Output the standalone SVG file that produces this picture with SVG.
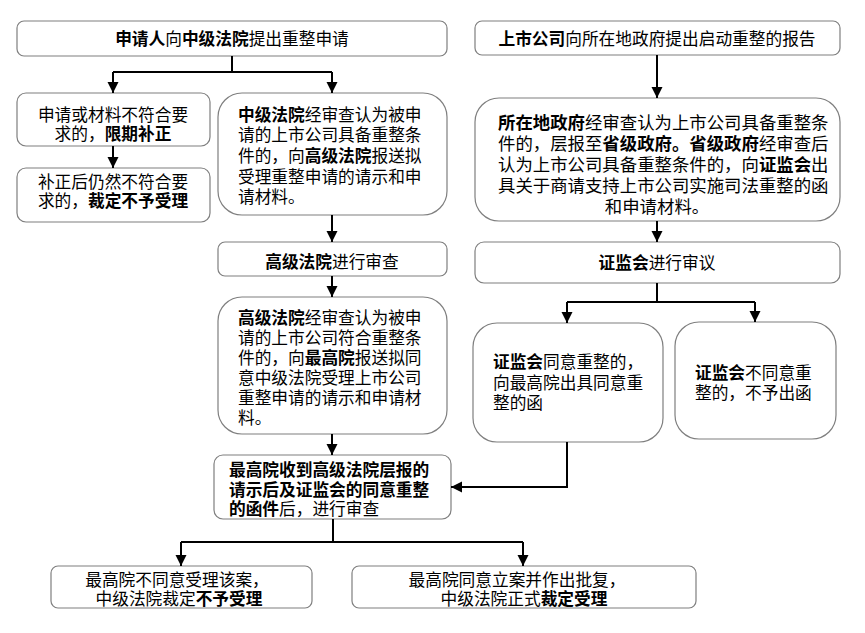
<svg xmlns="http://www.w3.org/2000/svg" width="865" height="633" viewBox="0 0 865 633">
<defs>
<marker id="arr" viewBox="0 0 10 10" refX="10" refY="5" markerUnits="userSpaceOnUse" markerWidth="11" markerHeight="12" orient="auto">
<path d="M0,0 L10,5 L0,10 z" fill="#000"/>
</marker>
<style>
.box{fill:#fff;stroke:#7f7f7f;stroke-width:1.2}
.t{font-family:"Noto Sans CJK SC","Noto Sans",sans-serif;font-size:16.7px;fill:#000}
.w{font-size:17.4px}
.c{text-anchor:middle}
.b{font-weight:bold}
.ln{stroke:#000;stroke-width:2;fill:none}
.ar{stroke:#000;stroke-width:2;fill:none;marker-end:url(#arr)}
</style>
</defs>
<rect width="865" height="633" fill="#fff"/>

<g id="n1">
<rect class="box" x="17" y="21" width="430" height="35" rx="7"/>
<text class="t c" x="232" y="45"><tspan class="b">申请人</tspan>向<tspan class="b">中级法院</tspan>提出重整申请</text>
</g>
<g id="n2">
<rect class="box" x="17" y="93" width="193" height="53" rx="9"/>
<text class="t c"><tspan x="113" y="121">申请或材料不符合要</tspan><tspan x="113" y="140">求的，<tspan class="b">限期补正</tspan></tspan></text>
</g>
<g id="n3">
<rect class="box" x="17" y="168" width="193" height="54" rx="9"/>
<text class="t c"><tspan x="113" y="188">补正后仍然不符合要</tspan><tspan x="113" y="207">求的，<tspan class="b">裁定不予受理</tspan></tspan></text>
</g>
<g id="n4">
<rect class="box" x="218" y="93" width="229" height="122" rx="24"/>
<text class="t"><tspan x="238" y="121"><tspan class="b">中级法院</tspan>经审查认为被申</tspan><tspan x="238" y="141">请的上市公司具备重整条</tspan><tspan x="238" y="162">件的，向<tspan class="b">高级法院</tspan>报送拟</tspan><tspan x="238" y="183">受理重整申请的请示和申</tspan><tspan x="238" y="203">请材料。</tspan></text>
</g>
<g id="n5">
<rect class="box" x="218" y="242" width="229" height="34" rx="7"/>
<text class="t c" x="332" y="268"><tspan class="b">高级法院</tspan>进行审查</text>
</g>
<g id="n6">
<rect class="box" x="218" y="297" width="229" height="137" rx="24"/>
<text class="t"><tspan x="238" y="324"><tspan class="b">高级法院</tspan>经审查认为被申</tspan><tspan x="238" y="344">请的上市公司符合重整条</tspan><tspan x="238" y="364">件的，向<tspan class="b">最高院</tspan>报送拟同</tspan><tspan x="238" y="384">意中级法院受理上市公司</tspan><tspan x="238" y="404">重整申请的请示和申请材</tspan><tspan x="238" y="424">料。</tspan></text>
</g>
<g id="n7">
<rect class="box" x="214" y="455" width="237" height="64" rx="9"/>
<text class="t"><tspan class="b" x="229" y="476">最高院收到高级法院层报的</tspan><tspan class="b" x="229" y="496">请示后及证监会的同意重整</tspan><tspan x="229" y="515"><tspan class="b">的函件</tspan>后，进行审查</tspan></text>
</g>
<g id="r1">
<rect class="box" x="475" y="21" width="365" height="34" rx="7"/>
<text class="t c" x="657" y="45"><tspan class="b">上市公司</tspan>向所在地政府提出启动重整的报告</text>
</g>
<g id="r2">
<rect class="box" x="475" y="98" width="365" height="123" rx="24"/>
<text class="t w"><tspan x="498" y="129"><tspan class="b">所在地政府</tspan>经审查认为上市公司具备重整条</tspan><tspan x="498" y="150">件的，层报至<tspan class="b">省级政府。省级政府</tspan>经审查后</tspan><tspan x="498" y="171">认为上市公司具备重整条件的，向<tspan class="b">证监会</tspan>出</tspan><tspan x="498" y="192">具关于商请支持上市公司实施司法重整的函</tspan><tspan x="657" y="213" text-anchor="middle">和申请材料。</tspan></text>
</g>
<g id="r3">
<rect class="box" x="475" y="242" width="365" height="41" rx="9"/>
<text class="t c" x="657" y="269"><tspan class="b">证监会</tspan>进行审议</text>
</g>
<g id="r4">
<rect class="box" x="473" y="323" width="190" height="119" rx="24"/>
<text class="t"><tspan x="493" y="368"><tspan class="b">证监会</tspan>同意重整的，</tspan><tspan x="493" y="389">向最高院出具同意重</tspan><tspan x="493" y="409">整的函</tspan></text>
</g>
<g id="r5">
<rect class="box" x="675" y="322" width="161" height="117" rx="24"/>
<text class="t"><tspan x="695" y="379"><tspan class="b">证监会</tspan>不同意重</tspan><tspan x="695" y="399">整的，不予出函</tspan></text>
</g>
<g id="b1">
<rect class="box" x="51" y="566" width="261" height="42" rx="7"/>
<text class="t c"><tspan x="177" y="586">最高院不同意受理该案，</tspan><tspan x="179" y="605">中级法院裁定<tspan class="b">不予受理</tspan></tspan></text>
</g>
<g id="b2">
<rect class="box" x="352" y="566" width="344" height="42" rx="7"/>
<text class="t c"><tspan x="517" y="586">最高院同意立案并作出批复，</tspan><tspan x="524" y="605">中级法院正式<tspan class="b">裁定受理</tspan></tspan></text>
</g>

<g id="connectors">
<polyline class="ln" points="232,56 232,72"/>
<polyline class="ln" points="113,72 332,72"/>
<polyline class="ar" points="113,72 113,93"/>
<polyline class="ar" points="332,72 332,93"/>
<polyline class="ar" points="113,146 113,168"/>
<polyline class="ar" points="332,215 332,242"/>
<polyline class="ar" points="332,276 332,297"/>
<polyline class="ar" points="332,434 332,455"/>
<polyline class="ar" points="657,55 657,98"/>
<polyline class="ar" points="657,221 657,242"/>
<polyline class="ln" points="657,283 657,302"/>
<polyline class="ln" points="567,302 755,302"/>
<polyline class="ar" points="567,302 567,323"/>
<polyline class="ar" points="755,302 755,322"/>
<polyline class="ar" points="567,442 567,487 451,487"/>
<polyline class="ln" points="333,519 333,542"/>
<polyline class="ln" points="181,542 523,542"/>
<polyline class="ar" points="181,542 181,566"/>
<polyline class="ar" points="523,542 523,566"/>
</g>
</svg>
